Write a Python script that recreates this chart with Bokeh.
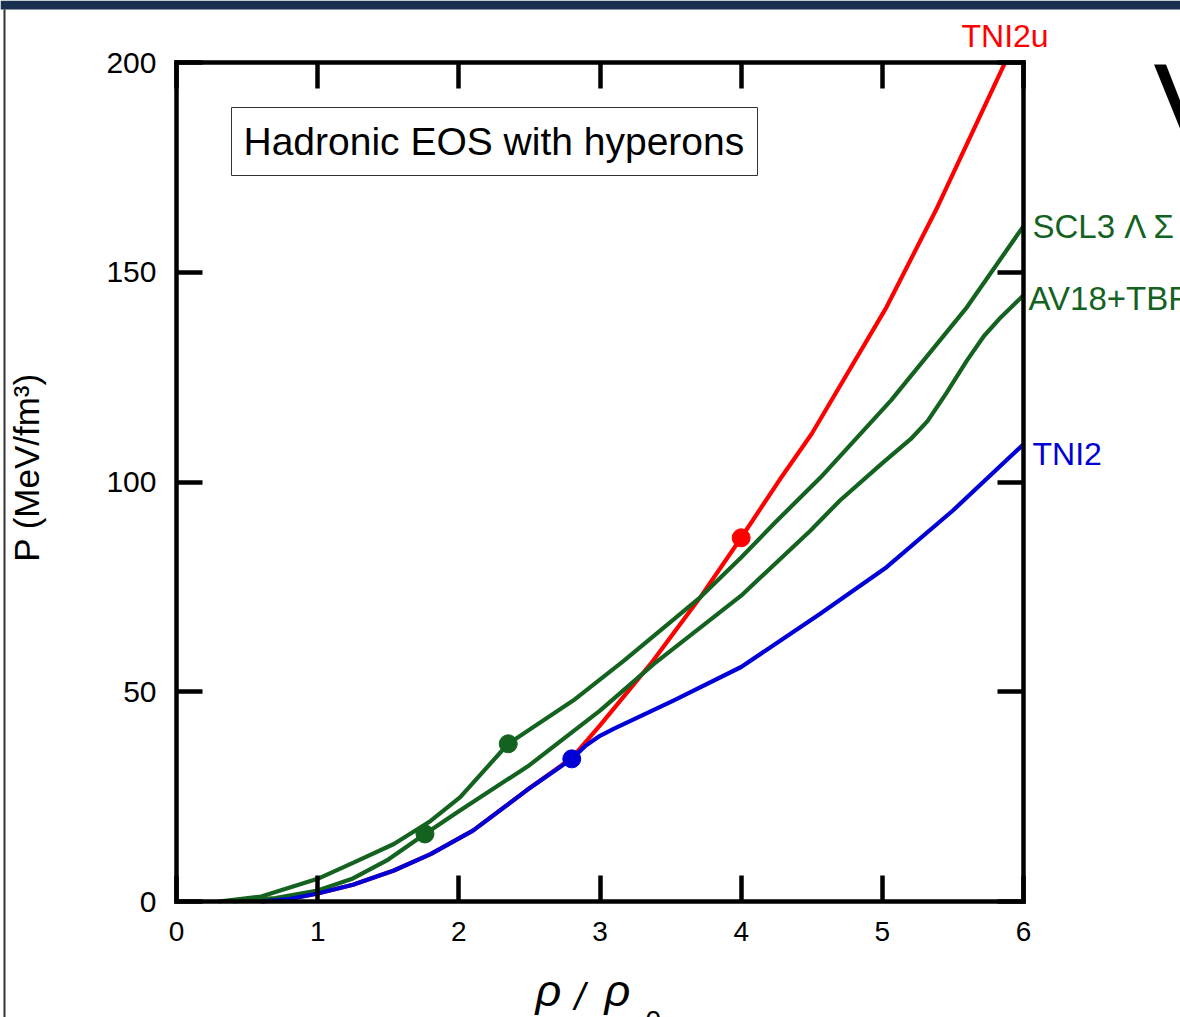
import math
from bokeh.plotting import figure
from bokeh.models import LinearAxis, FixedTicker, Label, BoxAnnotation, Range1d
from bokeh.embed import file_html
from bokeh.resources import INLINE

# ---- data ----
tni2_x = [0.6, 0.8, 1.0, 1.25, 1.54, 1.8, 2.1, 2.48, 2.8, 2.9, 3.0, 3.1, 3.52, 4.0, 4.56, 5.03, 5.5, 6.0]
tni2_y = [0.0, 0.6, 1.9, 4.0, 7.4, 11.3, 16.9, 26.5, 34.0, 37.2, 39.5, 41.2, 47.9, 55.9, 68.6, 79.7, 93.2, 109.0]

tni2u_x = [0.6, 0.8, 1.0, 1.25, 1.54, 1.8, 2.1, 2.48, 2.8, 3.0, 3.36, 3.71, 4.0, 4.27, 4.5, 5.03, 5.39, 5.86, 6.0]
tni2u_y = [0.0, 0.6, 1.9, 4.0, 7.4, 11.3, 16.9, 26.5, 34.2, 42.0, 56.7, 72.5, 86.7, 100.4, 111.5, 141.7, 165.5, 199.3, 209.0]

scl3_x = [0.3, 0.6, 1.0, 1.25, 1.54, 1.8, 2.01, 2.35, 2.81, 3.17, 3.71, 4.0, 4.23, 4.56, 5.06, 5.6, 6.0]
scl3_y = [0.0, 1.2, 5.4, 9.2, 13.7, 19.2, 24.9, 37.6, 47.9, 57.4, 72.5, 82.0, 90.0, 101.0, 119.4, 141.7, 161.0]

av18_x = [0.4, 0.7, 1.0, 1.25, 1.5, 1.76, 2.0, 2.5, 3.0, 3.38, 4.0, 4.49, 4.7, 5.0, 5.2, 5.32, 5.45, 5.6, 5.72, 5.84, 6.0]
av18_y = [0.0, 0.8, 2.6, 5.5, 10.0, 16.1, 21.5, 32.5, 45.5, 56.6, 72.9, 88.4, 95.6, 104.5, 110.2, 114.5, 121.0, 129.0, 134.8, 139.3, 144.5]

dot_blue_x, dot_blue_y = [2.8], [34.0]
dot_red_x, dot_red_y = [4.0], [86.7]
dots_green_x = [2.35, 1.76]
dots_green_y = [37.6, 16.1]

x_ticks = [0, 1, 2, 3, 4, 5, 6]
y_ticks = [0, 50, 100, 150, 200]
X_MIN, X_MAX = 0, 6
Y_MIN, Y_MAX = 0, 200

RED = "#ff0000"
BLUE = "#0000d6"
GREEN = "#14621f"

# ---- geometry: the Bokeh frame fills the page; axes sit at fixed data locations ----
W, H = 1180, 1017
FL, FR, FT, FB = 176, 1023, 62, 901   # where the data box lies on the page


def X(px):
    return X_MIN + (px - FL) / (FR - FL) * (X_MAX - X_MIN)


def Y(py):
    return Y_MIN + (FB - py) / (FB - FT) * (Y_MAX - Y_MIN)


p = figure(width=W, height=H, x_range=Range1d(X(0), X(W)), y_range=Range1d(Y(H), Y(0)),
           output_backend="svg", toolbar_location=None, title=None,
           x_axis_location=None, y_axis_location=None,
           min_border=0, min_border_left=0, min_border_right=0,
           min_border_top=0, min_border_bottom=0)
p.grid.visible = False
p.outline_line_color = None
p.background_fill_color = "white"
p.border_fill_color = "white"


def make_axis(ticks, loc, bounds, show_labels, size="28px"):
    ax = LinearAxis(ticker=FixedTicker(ticks=ticks), fixed_location=loc, bounds=bounds)
    ax.axis_line_width = 4.5
    ax.axis_line_color = "black"
    ax.axis_line_cap = "square"
    ax.major_tick_in = 26
    ax.major_tick_out = 0
    ax.major_tick_line_width = 4.5
    ax.major_tick_line_color = "black"
    ax.minor_tick_line_color = None
    ax.major_label_text_font = "Liberation Sans"
    ax.major_label_text_font_size = size
    ax.major_label_text_color = "black"
    if not show_labels:
        ax.major_label_overrides = {t: "" for t in ticks}
        ax.major_label_text_color = None
    return ax


bx = make_axis(x_ticks, Y_MIN, (X_MIN, X_MAX), True, "28px")
bx.major_label_standoff = 20
lx = make_axis(y_ticks, X_MIN, (Y_MIN, Y_MAX), True, "30px")
lx.major_label_standoff = 20
tx = make_axis(x_ticks, Y_MAX, (X_MIN, X_MAX), False)
rx = make_axis(y_ticks, X_MAX, (Y_MIN, Y_MAX), False)
p.add_layout(bx, "below")
p.add_layout(lx, "left")
p.add_layout(tx, "above")
p.add_layout(rx, "right")


# curves (clipped at the top of the data box)
def clipped(xs, ys):
    ox, oy = [], []
    for i, (a, b) in enumerate(zip(xs, ys)):
        if b <= Y_MAX:
            ox.append(a)
            oy.append(b)
        else:
            a0, b0 = xs[i - 1], ys[i - 1]
            ox.append(a0 + (a - a0) * (Y_MAX - b0) / (b - b0))
            oy.append(Y_MAX)
            break
    return ox, oy


rx_, ry_ = clipped(tni2u_x, tni2u_y)
LW = 4.2
p.line(rx_, ry_, line_color=RED, line_width=LW, line_join="round")
p.line(scl3_x, scl3_y, line_color=GREEN, line_width=LW, line_join="round")
p.line(av18_x, av18_y, line_color=GREEN, line_width=LW, line_join="round")
p.line(tni2_x, tni2_y, line_color=BLUE, line_width=LW, line_join="round")

p.scatter(dots_green_x, dots_green_y, size=18, color=GREEN)
p.scatter(dot_blue_x, dot_blue_y, size=18, color=BLUE)
p.scatter(dot_red_x, dot_red_y, size=18, color=RED)

# boxed caption
p.add_layout(BoxAnnotation(left=X(231), right=X(757), top=Y(107), bottom=Y(175),
                           fill_color="white", fill_alpha=1.0,
                           line_color="#333333", line_alpha=1.0, line_width=1))


def lab(px, py, text, color, size=32, font="Liberation Sans", style="normal",
        align="left", baseline="alphabetic", angle=0.0):
    if baseline == "alphabetic":
        py = py - 0.36 * size   # compensate the renderer's baseline offset
    p.add_layout(Label(x=X(px), y=Y(py), text=text, text_color=color,
                       text_font=font, text_font_size=f"{size}px", text_font_style=style,
                       text_align=align, text_baseline=baseline, angle=angle))


lab(243, 155, "Hadronic EOS with hyperons", "black", size=39)

# curve labels
lab(961, 47, "TNI2u", RED)
lab(1032, 238, "SCL3 Λ Σ", GREEN, size=33)
lab(1028, 310, "AV18+TBF", GREEN, size=33)
lab(1032, 465, "TNI2", BLUE)

# axis titles
lab(26, 467, "P (MeV/fm³)", "black", size=35, align="center", baseline="middle",
    angle=math.pi / 2)
lab(535, 1006, "ρ", "black", size=45, style="italic")
lab(574, 1010, "/", "black", size=38, style="italic")
lab(604, 1006, "ρ", "black", size=45, style="italic")
lab(645, 1010, "0", "black", size=28, baseline="top")

# big partial letter at the right edge (slide title)
lab(1153, 150, "V", "black", size=122)

# slide decorations: dark top bar and thin left border
p.add_layout(BoxAnnotation(left=X(0), right=X(W), top=Y(0), bottom=Y(9),
                           fill_color="#19314f", fill_alpha=1.0, line_color=None))
p.add_layout(BoxAnnotation(left=X(3), right=X(5), top=Y(9), bottom=Y(H),
                           fill_color="#333333", fill_alpha=1.0, line_color=None))

open("out.html", "w").write(file_html(p, INLINE))
